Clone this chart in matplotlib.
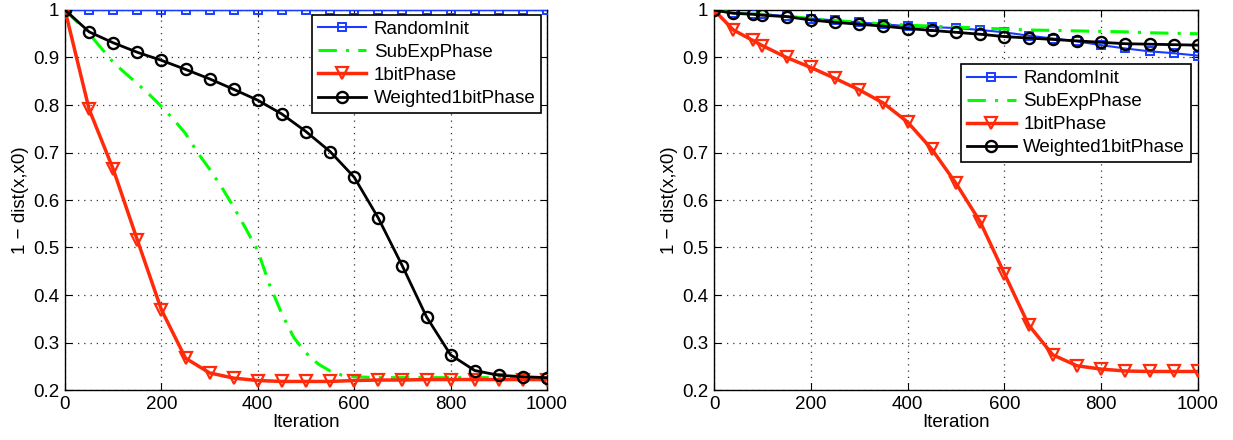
import matplotlib
matplotlib.use("Agg")
import matplotlib.pyplot as plt
import numpy as np

plt.rcParams['font.family'] = ['Liberation Sans', 'DejaVu Sans']

# ---- Left panel data ----
left_x = [0, 50, 100, 150, 200, 250, 300, 350, 400, 450, 500, 550, 600, 650, 700,
          750, 800, 850, 900, 950, 1000]
left_random = [1.0] * 21
left_1bit = [1.0, 0.791, 0.665, 0.516, 0.369, 0.267, 0.236, 0.225, 0.220, 0.218, 0.218,
             0.218, 0.220, 0.221, 0.221, 0.222, 0.222, 0.222, 0.222, 0.222, 0.222]
left_weighted = [1.0, 0.954, 0.931, 0.911, 0.894, 0.875, 0.855, 0.833, 0.810, 0.781, 0.744,
                 0.702, 0.648, 0.562, 0.461, 0.354, 0.274, 0.241, 0.231, 0.228, 0.226]
left_subexp_x = [0, 25, 50, 75, 100, 125, 150, 175, 200, 225, 250, 275, 300, 325, 350,
                 375, 400, 425, 450, 475, 500, 525, 550, 575, 600, 650, 700, 750, 800,
                 850, 900, 950, 1000]
left_subexp = [1.0, 0.975, 0.95, 0.92, 0.89, 0.867, 0.845, 0.822, 0.797, 0.77, 0.74, 0.70,
               0.665, 0.627, 0.585, 0.54, 0.493, 0.42, 0.36, 0.31, 0.278, 0.255, 0.24,
               0.231, 0.228, 0.226, 0.226, 0.226, 0.226, 0.226, 0.226, 0.226, 0.226]

# ---- Right panel data ----
right_x = [0, 40, 80, 100, 150, 200, 250, 300, 350, 400, 450, 500, 550, 600, 650, 700,
           750, 800, 850, 900, 950, 1000]
right_random = [1.0, 0.994, 0.992, 0.991, 0.987, 0.982, 0.978, 0.974, 0.970, 0.966, 0.964,
                0.962, 0.958, 0.953, 0.946, 0.940, 0.934, 0.926, 0.919, 0.913, 0.909, 0.904]
right_subexp = [1.0, 0.994, 0.992, 0.991, 0.987, 0.982, 0.978, 0.974, 0.971, 0.968, 0.966,
                0.964, 0.962, 0.960, 0.958, 0.957, 0.956, 0.955, 0.954, 0.952, 0.951, 0.950]
right_1bit = [1.0, 0.958, 0.936, 0.925, 0.900, 0.879, 0.856, 0.832, 0.804, 0.764, 0.707,
              0.635, 0.554, 0.445, 0.337, 0.274, 0.251, 0.244, 0.240, 0.239, 0.239, 0.239]
right_weighted = [1.0, 0.993, 0.991, 0.989, 0.986, 0.979, 0.974, 0.970, 0.966, 0.961, 0.957,
                  0.953, 0.949, 0.944, 0.941, 0.938, 0.935, 0.932, 0.929, 0.928, 0.927, 0.926]

labels = ["RandomInit", "SubExpPhase", "1bitPhase", "Weighted1bitPhase"]
yticks = [0.2, 0.3, 0.4, 0.5, 0.6, 0.7, 0.8, 0.9, 1.0]
ytick_labels = ["0.2", "0.3", "0.4", "0.5", "0.6", "0.7", "0.8", "0.9", "1"]
xticks = [0, 200, 400, 600, 800, 1000]

BLUE = "#1a3cff"
GREEN = "#00ff00"
RED = "#ff2a0a"
BLACK = "#000000"

fig = plt.figure(figsize=(12.33, 4.4), dpi=100)
ax1 = fig.add_axes([65 / 1233, 50 / 440, 482 / 1233, 380 / 440])
ax2 = fig.add_axes([714 / 1233, 50 / 440, 484 / 1233, 380 / 440])


def draw(ax, xr, yr, xs, ys, xb, yb, xw, yw):
    ax.plot(xr, yr, color=BLUE, lw=1.5, marker='s', ms=6, mfc='none', mew=1.4,
            label=labels[0], zorder=3)
    ax.plot(xs, ys, color=GREEN, lw=2.2, ls=(0, (6, 3, 1, 3)), label=labels[1], zorder=3)
    ax.plot(xb, yb, color=RED, lw=2.5, marker='v', ms=8.5, mfc='none', mew=1.6,
            label=labels[2], zorder=4)
    ax.plot(xw, yw, color=BLACK, lw=2.0, marker='o', ms=8, mfc='none', mew=1.7,
            label=labels[3], zorder=5)
    ax.set_xlim(0, 1000)
    ax.set_ylim(0.2, 1.0)
    ax.set_xticks(xticks)
    ax.set_yticks(yticks)
    ax.set_yticklabels(ytick_labels)
    ax.tick_params(direction='in', top=True, right=True, labelsize=13.5, length=5, pad=4)
    ax.grid(True, ls=(0, (1, 4)), color='#333333', lw=0.9)
    ax.set_xlabel("Iteration", fontsize=13.5, labelpad=1)
    ax.set_ylabel("1 \u2212 dist(x,x0)", fontsize=13.5, labelpad=3)
    for s in ax.spines.values():
        s.set_linewidth(1.0)


draw(ax1, left_x, left_random, left_subexp_x, left_subexp, left_x, left_1bit,
     left_x, left_weighted)
draw(ax2, right_x, right_random, right_x, right_subexp, right_x, right_1bit,
     right_x, right_weighted)

for ax, anchor in ((ax1, (0.988, 0.987)), (ax2, (0.985, 0.857))):
    leg = ax.legend(loc='upper right', bbox_to_anchor=anchor, fontsize=13.5,
                    fancybox=False, framealpha=1, edgecolor='black',
                    handlelength=2.6, borderpad=0.3, labelspacing=0.32,
                    handletextpad=0.4, borderaxespad=0)
    leg.get_frame().set_linewidth(1.2)
    leg.set_zorder(10)

fig.savefig("out.png", dpi=100)
